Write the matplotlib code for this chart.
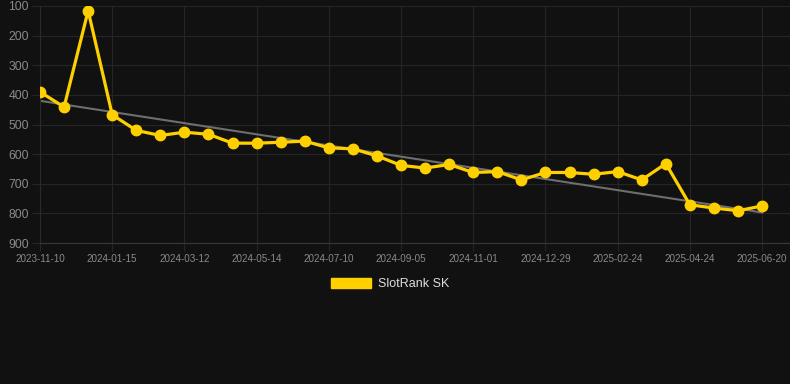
import numpy as np
import matplotlib
matplotlib.use("Agg")
import matplotlib.pyplot as plt
from matplotlib.patches import Patch

# Data (rank, lower is better)
dates = ["2023-11-10", "2023-11-29", "2023-12-18", "2024-01-15", "2024-02-03",
         "2024-02-22", "2024-03-12", "2024-03-31", "2024-04-20", "2024-05-14",
         "2024-06-02", "2024-06-21", "2024-07-10", "2024-07-29", "2024-08-17",
         "2024-09-05", "2024-09-24", "2024-10-13", "2024-11-01", "2024-11-20",
         "2024-12-09", "2024-12-29", "2025-01-17", "2025-02-05", "2025-02-24",
         "2025-03-15", "2025-04-03", "2025-04-24", "2025-05-13", "2025-06-01",
         "2025-06-20"]
ranks = [390, 441, 116, 467, 520, 537, 526, 533, 563, 563,
         560, 556, 579, 582, 606, 638, 647, 635, 662, 659,
         687, 662, 662, 668, 659, 687, 632, 771, 782, 791,
         775]
# trend line values at first and last date
trend_ends = [420, 797]
label_every = 3
series_name = "SlotRank SK"

bg = "#111111"
gold = "#FFD000"
grid_col = "#252525"
tick_col = "#8a8a8a"

x = np.arange(len(ranks))

fig = plt.figure(figsize=(7.9, 3.84), dpi=100, facecolor=bg)
ax = fig.add_axes([40 / 790, 1 - 243 / 384, 750 / 790, 237 / 384])
ax.set_facecolor(bg)

ax.plot([x[0], x[-1]], trend_ends, color="#6e6e6e", linewidth=1.5, zorder=2)
ax.plot(x, ranks, color=gold, linewidth=2.3, marker="o", markersize=7.5,
        markerfacecolor=gold, markeredgecolor=gold, zorder=3)

ax.set_ylim(900, 100)
ax.set_yticks(np.arange(100, 901, 100))
ax.set_xlim(0, (750 / 24.07))
ax.set_xticks(x[::label_every])
ax.set_xticklabels(dates[::label_every])

ax.grid(True, color=grid_col, linewidth=0.8)
ax.set_axisbelow(True)
for side in ["top", "right"]:
    ax.spines[side].set_visible(False)
ax.spines["left"].set_color("#2a2a2a")
ax.spines["bottom"].set_color("#383838")

ax.tick_params(axis="y", length=6, width=0.8, color=grid_col, pad=2,
               labelcolor=tick_col, labelsize=8.8)
ax.tick_params(axis="x", length=6, width=0.8, color=grid_col, pad=2,
               labelcolor=tick_col, labelsize=7.1)
for lab in ax.get_xticklabels() + ax.get_yticklabels():
    lab.set_fontfamily("Liberation Sans")

handle = Patch(facecolor=gold, edgecolor=gold)
leg = fig.legend([handle], [series_name], loc="center", bbox_to_anchor=(390 / 790, 1 - 284 / 384),
                 frameon=False, handlelength=3.2, handleheight=0.95, handletextpad=0.5,
                 prop={"family": "Liberation Sans", "size": 9})
for t in leg.get_texts():
    t.set_color("#dddddd")

fig.savefig("out.png", dpi=100, facecolor=bg)
